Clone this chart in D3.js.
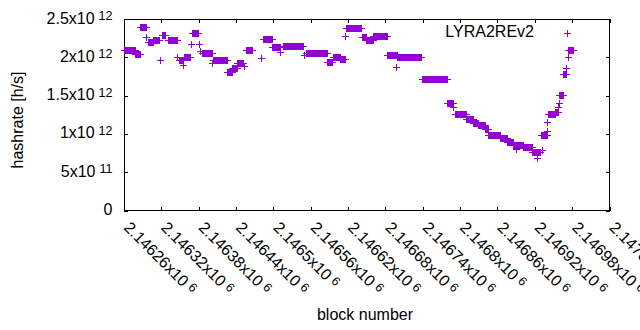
<!DOCTYPE html>
<html>
<head>
<meta charset="utf-8">
<script src="https://cdn.jsdelivr.net/npm/d3@7"></script>
<style>
  body { margin: 0; background: #fff; }
  svg { display: block; font-family: 'Liberation Sans', Arial, sans-serif; }
</style>
</head>
<body>
<div id="container"></div>
<script>
// runs of consecutive blocks with the same hashrate (offsets from block 2146260)
const runStart = [0, 18, 26, 36, 38, 47, 58, 61, 71, 85, 88, 95, 96, 107, 109, 120, 122, 125, 141, 143,
  166, 174, 182, 193, 196, 220, 223, 238, 251, 255, 289, 292, 326, 336, 347, 355, 357, 382, 389, 400,
  423, 437, 439, 478, 519, 529, 532, 550, 561, 569, 580, 585, 604, 615, 625, 630, 633, 641, 656, 663,
  670, 672, 680, 680, 681, 693, 697, 699, 699, 705, 710, 713, 713];
const runEnd = [18, 26, 35, 36, 46, 56, 58, 66, 85, 85, 94, 95, 106, 107, 119, 120, 122, 141, 141, 166,
  173, 181, 191, 193, 206, 220, 238, 251, 251, 288, 289, 326, 334, 347, 355, 355, 381, 388, 400, 422,
  438, 437, 477, 519, 528, 529, 549, 560, 568, 580, 585, 604, 615, 625, 633, 630, 641, 655, 668, 663,
  680, 672, 680, 680, 692, 697, 697, 699, 705, 710, 710, 713, 721];
// hashrate of each run, in units of 10^12 h/s
const runRate = [2.10, 2.04, 2.39, 2.26, 2.20, 2.22, 1.96, 2.29, 2.22, 2.01, 1.97, 1.90, 2.00, 2.17, 2.32, 2.17, 2.08, 2.05, 1.93, 1.96,
  1.81, 1.86, 1.92, 1.89, 2.09, 1.99, 2.24, 2.13, 2.07, 2.15, 2.03, 2.05, 1.94, 2.01, 1.98, 2.28, 2.38, 2.27, 2.23, 2.28,
  2.03, 1.87, 2.00, 1.72, 1.40, 1.35, 1.26, 1.20, 1.14, 1.11, 1.06, 0.99, 0.94, 0.89, 0.85, 0.80, 0.86, 0.83, 0.77, 0.69,
  0.98, 0.79, 1.04, 1.15, 1.26, 1.29, 1.35, 1.40, 1.51, 1.78, 1.86, 2.01, 2.09];

const firstBlock = 2146260;
const xTicks = [2146260, 2146320, 2146380, 2146440, 2146500, 2146560, 2146620, 2146680, 2146740, 2146800, 2146860, 2146920, 2146980, 2147040];
const xTickLabels = ['2.14626', '2.14632', '2.14638', '2.14644', '2.1465', '2.14656', '2.14662', '2.14668', '2.14674', '2.1468', '2.14686', '2.14692', '2.14698', '2.14704'];
const yTicks = [0, 5e11, 1e12, 1.5e12, 2e12, 2.5e12];
const yTickMant = ['0', '5x10', '1x10', '1.5x10', '2x10', '2.5x10'];
const yTickExp = ['', '11', '12', '12', '12', '12'];

const width = 640, height = 330;
const plotLeft = 124, plotRight = 609.5, plotTop = 19, plotBottom = 210.5;
const color = '#9400d3';
const fontSize = '16px', supSize = '12.5px';

const svg = d3.select('#container').append('svg')
  .attr('width', width)
  .attr('height', height);

const x = d3.scaleLinear().domain([2146260, 2147040]).range([plotLeft, plotRight]);
const y = d3.scaleLinear().domain([0, 2.5e12]).range([plotBottom, plotTop]);

// expand runs into one point per block
let points = [];
runStart.forEach((s, i) => {
  for (let b = s; b <= runEnd[i]; b++) points.push({ block: firstBlock + b, rate: runRate[i] * 1e12 });
});

// ticks on all four sides, pointing inward
const tick = 4;
svg.append('g').attr('transform', `translate(0,${plotBottom})`)
  .call(d3.axisBottom(x).tickValues(xTicks).tickFormat('').tickSizeInner(-tick).tickSizeOuter(0));
svg.append('g').attr('transform', `translate(0,${plotTop})`)
  .call(d3.axisTop(x).tickValues(xTicks).tickFormat('').tickSizeInner(-tick).tickSizeOuter(0));
svg.append('g').attr('transform', `translate(${plotLeft},0)`)
  .call(d3.axisLeft(y).tickValues(yTicks).tickFormat('').tickSizeInner(-tick).tickSizeOuter(0));
svg.append('g').attr('transform', `translate(${plotRight},0)`)
  .call(d3.axisRight(y).tickValues(yTicks).tickFormat('').tickSizeInner(-tick).tickSizeOuter(0));
svg.selectAll('.domain').remove();
svg.selectAll('.tick line').attr('stroke', '#000').attr('shape-rendering', 'crispEdges');

svg.append('rect')
  .attr('x', plotLeft).attr('y', plotTop)
  .attr('width', plotRight - plotLeft).attr('height', plotBottom - plotTop)
  .attr('fill', 'none').attr('stroke', '#000').attr('stroke-width', 1)
  .attr('shape-rendering', 'crispEdges');

// y tick labels
const yl = svg.append('g').selectAll('text')
  .data(yTicks)
  .enter()
  .append('text')
  .attr('x', 112.5)
  .attr('y', (d) => y(d) + 4.5)
  .attr('text-anchor', 'end')
  .style('font-size', fontSize)
  .attr('fill', '#000');
yl.append('tspan').text((d, i) => yTickMant[i]);
yl.append('tspan').attr('dx', 4).attr('dy', -3.5).style('font-size', supSize).text((d, i) => yTickExp[i]);

// x tick labels, rotated
const xl = svg.append('g').selectAll('text')
  .data(xTicks)
  .enter()
  .append('text')
  .attr('transform', (d) => `translate(${x(d) - 1},${plotBottom + 18}) rotate(45)`)
  .style('font-size', fontSize)
  .attr('fill', '#000');
xl.append('tspan').text((d, i) => xTickLabels[i] + 'x10');
xl.append('tspan').attr('dx', 4).attr('dy', -3.5).style('font-size', supSize).text('6');

// axis titles
svg.append('text')
  .attr('x', 365).attr('y', 320)
  .attr('text-anchor', 'middle')
  .style('font-size', fontSize)
  .text('block number');
svg.append('text')
  .attr('transform', 'translate(22.5,120) rotate(-90)')
  .attr('text-anchor', 'middle')
  .style('font-size', fontSize)
  .text('hashrate [h/s]');

// points
const plus = 'M-3.5,0H3.5M0,-3.5V3.5';
svg.append('g')
  .selectAll('path')
  .data(points)
  .enter()
  .append('path')
  .attr('d', plus)
  .attr('transform', (d) => `translate(${Math.round(x(d.block)) + 0.5},${Math.round(y(d.rate)) + 0.5})`)
  .attr('stroke', color)
  .attr('stroke-width', 1)
  .attr('fill', 'none')
  .attr('shape-rendering', 'crispEdges');

// legend
svg.append('text')
  .attr('x', 534).attr('y', 37)
  .attr('text-anchor', 'end')
  .style('font-size', fontSize)
  .text('LYRA2REv2');
svg.append('path')
  .attr('d', plus)
  .attr('transform', 'translate(567.5,33.5)')
  .attr('stroke', color)
  .attr('fill', 'none')
  .attr('shape-rendering', 'crispEdges');
</script>
</body>
</html>
